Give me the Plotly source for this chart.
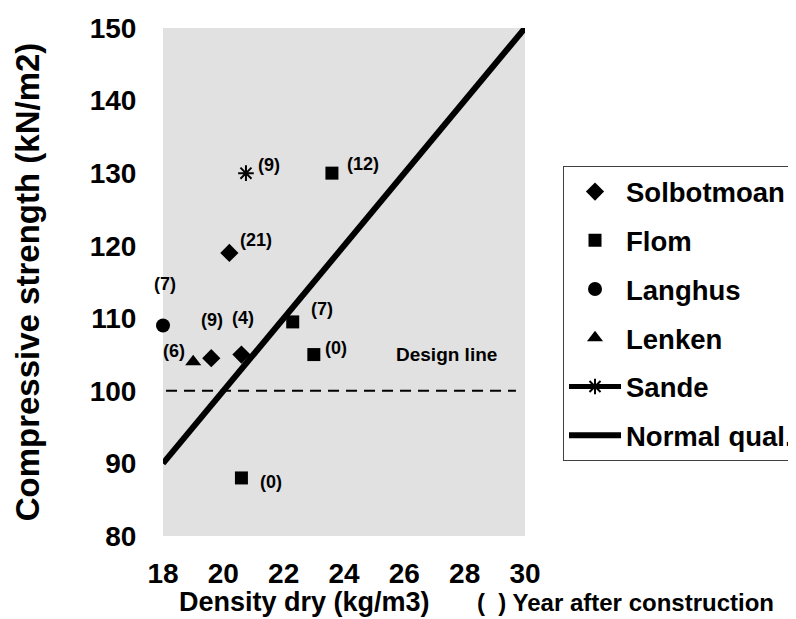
import plotly.graph_objects as go

# density dry (kg/m3) vs compressive strength (kN/m2), label = years after construction
solbot_x = [20.2, 19.6, 20.6]
solbot_y = [119, 104.5, 105]
solbot_yrs = ["(21)", "(9)", "(4)"]

flom_x = [23.6, 22.3, 23.0, 20.6]
flom_y = [130, 109.5, 105, 88]
flom_yrs = ["(12)", "(7)", "(0)", "(0)"]

langhus_x = [18.0]
langhus_y = [109]
langhus_yrs = ["(7)"]

lenken_x = [19.0]
lenken_y = [104]
lenken_yrs = ["(6)"]

sande_x = [20.75]
sande_y = [130]
sande_yrs = ["(9)"]

normal_x = [18, 30]
normal_y = [90, 150]

design_x = [18.1, 29.7]
design_y = [100, 100]

FONT = "Arial, Liberation Sans, sans-serif"

fig = go.Figure()

series = [
    ("Solbotmoan", solbot_x, solbot_y, "diamond", 14),
    ("Flom", flom_x, flom_y, "square", 13),
    ("Langhus", langhus_x, langhus_y, "circle", 14),
    ("Lenken", lenken_x, lenken_y, "triangle-up", 14),
]
for i, (name, xs, ys, sym, sz) in enumerate(series):
    fig.add_trace(go.Scatter(
        x=xs, y=ys, mode="markers", name=name, legendgroup=f"g{i}",
        marker=dict(symbol=sym, size=sz, color="black"),
        cliponaxis=False,
    ))

fig.add_trace(go.Scatter(
    x=sande_x, y=sande_y, mode="lines+markers", name="Sande", legendgroup="g4",
    line=dict(color="black", width=5),
    marker=dict(symbol="asterisk-open", size=13, color="black", line=dict(color="black", width=2)),
    cliponaxis=False,
))
fig.add_trace(go.Scatter(
    x=normal_x, y=normal_y, mode="lines", name="Normal qual.", legendgroup="g5",
    line=dict(color="black", width=6), cliponaxis=False,
))
fig.add_trace(go.Scatter(
    x=design_x, y=design_y, mode="lines", showlegend=False,
    line=dict(color="black", width=2, dash="11px,7px"),
))

# year labels, pixel offsets from their points
label_sets = [
    (solbot_x, solbot_y, solbot_yrs, [(27, 13), (1, 38), (2, 37)]),
    (flom_x, flom_y, flom_yrs, [(31, 9), (29, 13), (22, 7), (30, -4)]),
    (langhus_x, langhus_y, langhus_yrs, [(2, 42)]),
    (lenken_x, lenken_y, lenken_yrs, [(-19, 11)]),
    (sande_x, sande_y, sande_yrs, [(23, 8)]),
]
for xs, ys, txts, offs in label_sets:
    for x, y, t, (dx, dy) in zip(xs, ys, txts, offs):
        fig.add_annotation(x=x, y=y, text=t, showarrow=False, xshift=dx, yshift=dy,
                           font=dict(family=FONT, size=18, color="black", weight="bold"))

fig.add_annotation(x=27.4, y=105, text="Design line", showarrow=False,
                   font=dict(family=FONT, size=19, color="black", weight="bold"))

fig.add_annotation(xref="paper", yref="paper", x=0.39, y=-0.13, xanchor="center", yanchor="middle",
                   text="Density dry (kg/m3)", showarrow=False,
                   font=dict(family=FONT, size=27, color="black", weight="bold"))
fig.add_annotation(xref="paper", yref="paper", x=0.862, y=-0.13, xanchor="left", yanchor="middle",
                   text="(&nbsp;&nbsp;) Year after construction", showarrow=False,
                   font=dict(family=FONT, size=24, color="black", weight="bold"))

fig.update_layout(
    width=796, height=619,
    margin=dict(l=155, r=279, t=20, b=91, autoexpand=False),
    paper_bgcolor="white", plot_bgcolor="#e1e1e1",
    font=dict(family=FONT, color="black", weight="bold"),
    legend=dict(
        x=1.105, y=0.728, xanchor="left", yanchor="top",
        bordercolor="#404040", borderwidth=1, bgcolor="white",
        font=dict(family=FONT, size=27.5, color="black", weight="bold"),
        itemwidth=52, tracegroupgap=10, traceorder="grouped",
    ),
)
fig.update_xaxes(
    range=[18, 30], dtick=2, showgrid=False, zeroline=False, showline=False,
    ticks="outside", ticklen=12, tickcolor="rgba(0,0,0,0)",
    tickfont=dict(family=FONT, size=28, weight="bold"),
)
fig.update_yaxes(
    range=[80, 150], dtick=10, showgrid=False, zeroline=False, showline=False,
    ticks="outside", ticklen=20, tickcolor="rgba(0,0,0,0)",
    tickfont=dict(family=FONT, size=28, weight="bold"),
    title=dict(text="Compressive strength (kN/m2)", standoff=40,
               font=dict(family=FONT, size=33, weight="bold")),
)

fig.write_html("out.html")
